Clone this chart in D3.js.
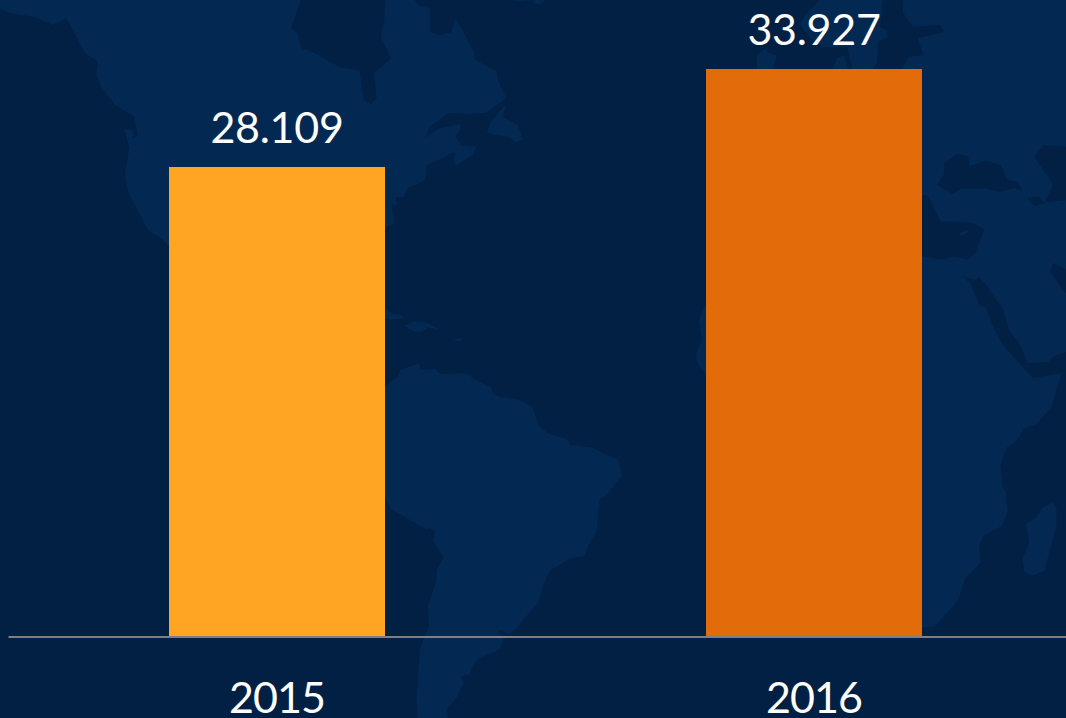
<!DOCTYPE html>
<html>
<head>
<meta charset="utf-8">
<script src="https://cdn.jsdelivr.net/npm/d3@7"></script>
<style>
html,body{margin:0;padding:0;background:#021f44;overflow:hidden}
svg{display:block}
text{font-family:Lato,"Open Sans",sans-serif;fill:#fff}
</style>
</head>
<body>
<svg id="c" width="1066" height="718"></svg>
<script>
const categories = ["2015", "2016"];
const values = [28109, 33927];
const valueLabels = ["28.109", "33.927"];
const barColors = ["#ffa523", "#e36c0a"];

const W = 1066, H = 718;
const BG = "#021f44", LAND = "#032852";

// Decorative world-map backdrop (not data). Pieces: [originX, originY, kx, ky, "x,y x,y ..."]
const KX = 533 / 1568, KY = 1 / 3;
const A = [0, 0, KX, KY], B = [533, 0, KX, KY], C = [0, 359, KX, KY], D = [533, 359, KX, KY], P = [0, 0, 1, 1];
const landShapes = [
  // North America
  [[P, "0,0"],
   [A, "0,25 25,38 105,52 155,75 195,55 250,160 288,185 283,225 300,265 338,315 395,350 405,405 390,417 394,390 367,388 380,445 367,522 378,580 435,690 480,720 497,740"],
   [P, "300,330 378,386 378,232"],
   [A, "1160,670 1152,612 1168,615 1165,592 1188,590 1200,562 1225,555 1252,538 1253,497 1310,470 1330,458 1340,462 1332,480 1342,497 1390,465 1402,440 1358,437 1338,407 1352,395 1355,372 1290,385 1250,415 1265,380 1320,338 1380,343 1430,338 1490,295 1465,240 1462,213 1398,180 1395,155 1340,55 1328,97 1292,105 1265,95 1265,25 1230,15 1220,0 1133,0 1130,60 1120,110 1150,175 1100,220 1108,295 1090,313 1070,300 1058,210 1005,205 910,150 888,150 875,100 857,85 885,0"]],
  // Newfoundland
  [[P, "487,133 490,122 506,104 503,117 518,125 523,140 515,142 508,137 497,135"]],
  // Greenland edge
  [[A, "1500,0 1525,4 1568,0"]],
  [[B, "0,0 0,10 22,12 38,0"]],
  // Caribbean
  [[A, "1133,925 1150,940 1180,945 1188,958 1133,958"]],
  [[A, "1190,978 1210,965 1250,965 1295,990 1258,983 1240,995 1220,995"]],
  [[A, "1332,1018 1355,1014 1355,1025"]],
  // South America
  [[P, "300,420 385,386"],
   [C, "1168,55 1178,32 1232,13 1238,32 1280,30 1295,45 1370,43 1405,65 1445,85 1452,105 1475,115 1528,122 1568,145"],
   [D, "0,150 20,205 50,225 100,240 110,258 175,265 215,288 250,300 262,350 215,410 195,423 188,515 165,555 150,592 110,598 50,635 30,680 15,735 0,748"],
   [C, "1530,795 1500,825 1465,812 1480,840 1472,870 1405,900 1380,945 1355,955 1365,970 1345,1015 1315,1050 1318,1077 1228,1077 1225,1015 1235,870 1262,800 1258,745 1283,665 1285,630 1305,595 1275,545 1280,520 1262,505 1255,512 1150,450 1133,415"],
   [P, "300,450"]],
  // Britain, Denmark, Scandinavia
  [[P, "757,68 757,55 767,47 768,53 777,55 773,68 773,90 757,90"]],
  [[P, "833,68 837,58 845,55 847,68 847,90 833,90"]],
  [[P, "820,0 806,14 800,24 812,40 823,47 847,47 852,68 852,90 873,90 873,68 877,63 878,42 888,37 887,30 880,27 883,0"]],
  // Eurasia and Africa
  [[P, "903,0 1066,0 1066,352 1056,355 1048,362 1028,363 1019,343 1009,330 1003,310 986,285 979,277 974,280 963,276 971,285 980,306 986,307 993,327 1003,345 1019,363 1033,378"],
   [D, "1555,42 1525,145 1480,195 1445,210 1420,250 1395,265 1375,315 1382,385 1390,395 1397,460 1380,500 1325,530 1312,565 1318,610 1270,660 1250,725 1180,805 1144,805"],
   [P, "860,560 760,374"],
   [D, "509,45 490,25 480,0"],
   [B, "480,1060 497,1020 488,960 509,905"],
   [P, "800,200 895,72 903,68 908,57 923,55 918,38 944,32 940,25 913,27 903,13"]],
  // Madagascar
  [[D, "1450,495 1480,475 1500,445 1530,430 1540,450 1540,500 1505,635 1470,650 1445,640 1440,600 1460,550 1452,510"]]
];
const seaShapes = [
  // Mediterranean
  [[P, "880,195"],
   [B, "1160,585 1200,665 1250,665 1295,670 1328,690 1300,760 1280,778 1240,770 1200,778 1144,768"],
   [P, "880,256"]],
  // Black Sea region
  [[B, "1190,555 1210,520 1210,490 1250,462 1280,470 1285,498 1330,482 1375,495 1395,540 1425,545 1440,570 1415,565 1370,575 1330,565 1260,565 1235,582"]],
  // Caspian region
  [[B, "1475,470 1500,435 1568,440 1568,600 1505,607 1530,555"]],
  [[B, "1455,595 1490,590 1505,610 1475,618"]],
  // Persian Gulf
  [[P, "1053,263 1050,272 1058,283 1066,293 1066,270"]]
];
const cyprus = [[[B, "1250,700 1285,690 1265,708"]]];

function pts(shape) {
  return shape.flatMap(([o, s]) => s.split(" ").map(p => {
    const [x, y] = p.split(",").map(Number);
    return [o[0] + x * o[2], o[1] + y * o[3]];
  }));
}

const svg = d3.select("#c");
svg.append("rect").attr("width", W).attr("height", H).attr("fill", BG);

const line = d3.line().curve(d3.curveLinear);
const mapG = svg.append("g");
mapG.selectAll("path.land").data(landShapes).join("path").attr("class", "land")
  .attr("d", d => line(pts(d)) + "Z").attr("fill", LAND);
mapG.selectAll("path.sea").data(seaShapes).join("path").attr("class", "sea")
  .attr("d", d => line(pts(d)) + "Z").attr("fill", BG);
mapG.selectAll("path.isle").data(cyprus).join("path").attr("class", "isle")
  .attr("d", d => line(pts(d)) + "Z").attr("fill", LAND);

const baseY = 636;
const x = d3.scaleBand().domain(categories).range([8.5, 1082.5]).paddingInner(0.598).paddingOuter(0.299);
const y = d3.scaleLinear().domain([0, 33927]).range([baseY, 69.4]);

svg.append("g").attr("shape-rendering", "crispEdges").selectAll("rect").data(values).join("rect")
  .attr("x", (d, i) => x(categories[i]))
  .attr("width", x.bandwidth())
  .attr("y", d => y(d))
  .attr("height", d => baseY - y(d))
  .attr("fill", (d, i) => barColors[i]);

const axis = d3.axisBottom(x).tickSize(0).tickSizeOuter(0).tickPadding(45).offset(0);
const ax = svg.append("g").attr("transform", `translate(0,${baseY + 1})`).call(axis);
ax.select(".domain").attr("stroke", "#808080").attr("stroke-width", 2);
ax.selectAll("text").attr("font-size", 43).attr("letter-spacing", -0.9)
  .attr("font-family", 'Lato,"Open Sans",sans-serif').attr("fill", "#fff");

svg.append("g").selectAll("text").data(values).join("text")
  .attr("x", (d, i) => x(categories[i]) + x.bandwidth() / 2)
  .attr("y", d => y(d) - 24)
  .attr("text-anchor", "middle")
  .attr("font-size", 43)
  .attr("letter-spacing", -0.3)
  .text((d, i) => valueLabels[i]);
</script>
</body>
</html>
